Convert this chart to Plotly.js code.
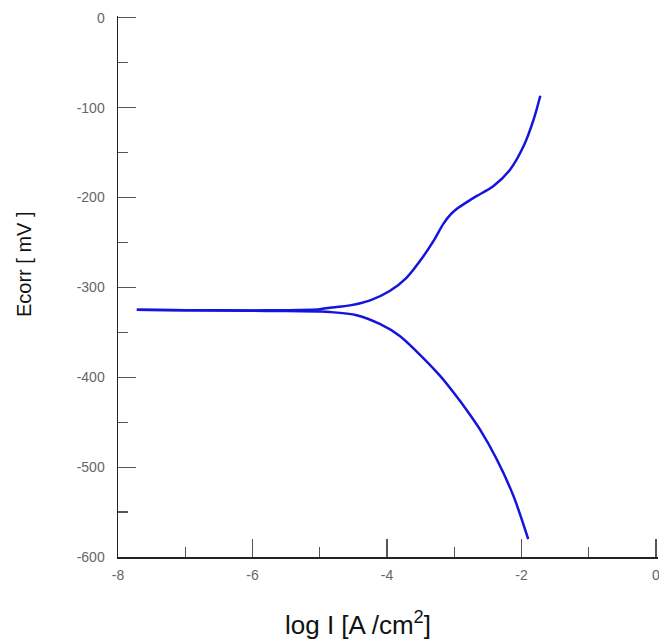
<!DOCTYPE html>
<html>
<head>
<meta charset="utf-8">
<script src="https://cdn.plot.ly/plotly-3.0.1.min.js"></script>
<style>html,body{margin:0;padding:0;background:#fff;}#chart{width:659px;height:640px;}</style>
</head>
<body>
<div id="chart"></div>
<script>
// Anodic branch (upper)
var anodicLogI = [-7.72, -7.0, -6.0, -5.5, -5.0, -4.85, -4.55, -4.25, -3.96, -3.71, -3.51, -3.31, -3.16, -3.05, -2.96, -2.8, -2.67, -2.42, -2.17, -1.97, -1.82, -1.72];
var anodicE    = [-325, -325.3, -325.6, -325.4, -324.3, -322.6, -320, -314.4, -304, -289.3, -270.7, -248.5, -229, -218.5, -212.5, -204.5, -198.5, -187.4, -169, -143, -113.3, -86.7];
// Cathodic branch (lower)
var cathodicLogI = [-7.72, -7.0, -6.0, -5.5, -5.0, -4.85, -4.45, -4.10, -3.81, -3.55, -3.21, -3.01, -2.8, -2.62, -2.37, -2.12, -1.90];
var cathodicE    = [-325, -325.5, -326, -326.4, -326.9, -327.4, -331, -341, -354, -372, -398.5, -417, -438, -457.8, -491, -532, -580];

var xTickVals = [-8, -6, -4, -2, 0];
var yTickVals = [0, -100, -200, -300, -400, -500, -600];
var xTitle = 'log I [A /cm<sup>2</sup>]';
var yTitle = 'Ecorr [ mV ]';

var lineStyle = {color: '#1414dc', width: 2.5, shape: 'spline', smoothing: 0.8};

var traces = [
  {x: anodicLogI, y: anodicE, mode: 'lines', line: lineStyle, name: 'anodic', hoverinfo: 'x+y'},
  {x: cathodicLogI, y: cathodicE, mode: 'lines', line: lineStyle, name: 'cathodic', hoverinfo: 'x+y'}
];

var tickFont = {family: 'Liberation Sans, Arial, sans-serif', size: 14, color: '#666'};

var layout = {
  width: 659, height: 640,
  margin: {l: 118, r: 1, t: 16, b: 83},
  paper_bgcolor: '#fff', plot_bgcolor: '#fff',
  showlegend: false,
  xaxis: {
    range: [-8, 0.03], tickvals: xTickVals, ticktext: xTickVals.map(String),
    ticks: 'inside', ticklen: 18, tickwidth: 1.2, tickcolor: '#555',
    minor: {dtick: 1, tick0: 0, ticks: 'inside', ticklen: 10, tickwidth: 1.2, tickcolor: '#555'},
    showline: true, linecolor: '#222', linewidth: 1.5,
    showgrid: false, zeroline: false, tickfont: tickFont, ticklabelstandoff: 5,
    ticklabeloverflow: 'allow', fixedrange: true
  },
  yaxis: {
    range: [-600, 2], tickvals: yTickVals, ticktext: yTickVals.map(String),
    ticks: 'inside', ticklen: 18, tickwidth: 1.2, tickcolor: '#555',
    minor: {dtick: 50, tick0: 0, ticks: 'inside', ticklen: 10, tickwidth: 1.2, tickcolor: '#555'},
    showline: true, linecolor: '#222', linewidth: 1.5,
    showgrid: false, zeroline: false, tickfont: tickFont, ticklabelstandoff: 9,
    ticklabeloverflow: 'allow', fixedrange: true
  },
  annotations: [
    {text: xTitle, xref: 'paper', yref: 'paper', x: (358 - 118) / 540, y: -(623 - 557) / 541,
     xanchor: 'center', yanchor: 'middle', showarrow: false,
     font: {family: 'Liberation Sans, Arial, sans-serif', size: 26, color: '#111'}},
    {text: yTitle, xref: 'paper', yref: 'paper', x: -(118 - 24) / 540, y: (557 - 264) / 541,
     xanchor: 'center', yanchor: 'middle', textangle: -90, showarrow: false,
     font: {family: 'Liberation Sans, Arial, sans-serif', size: 20, color: '#111'}}
  ]
};

Plotly.newPlot('chart', traces, layout, {displayModeBar: false, staticPlot: true});
</script>
</body>
</html>
